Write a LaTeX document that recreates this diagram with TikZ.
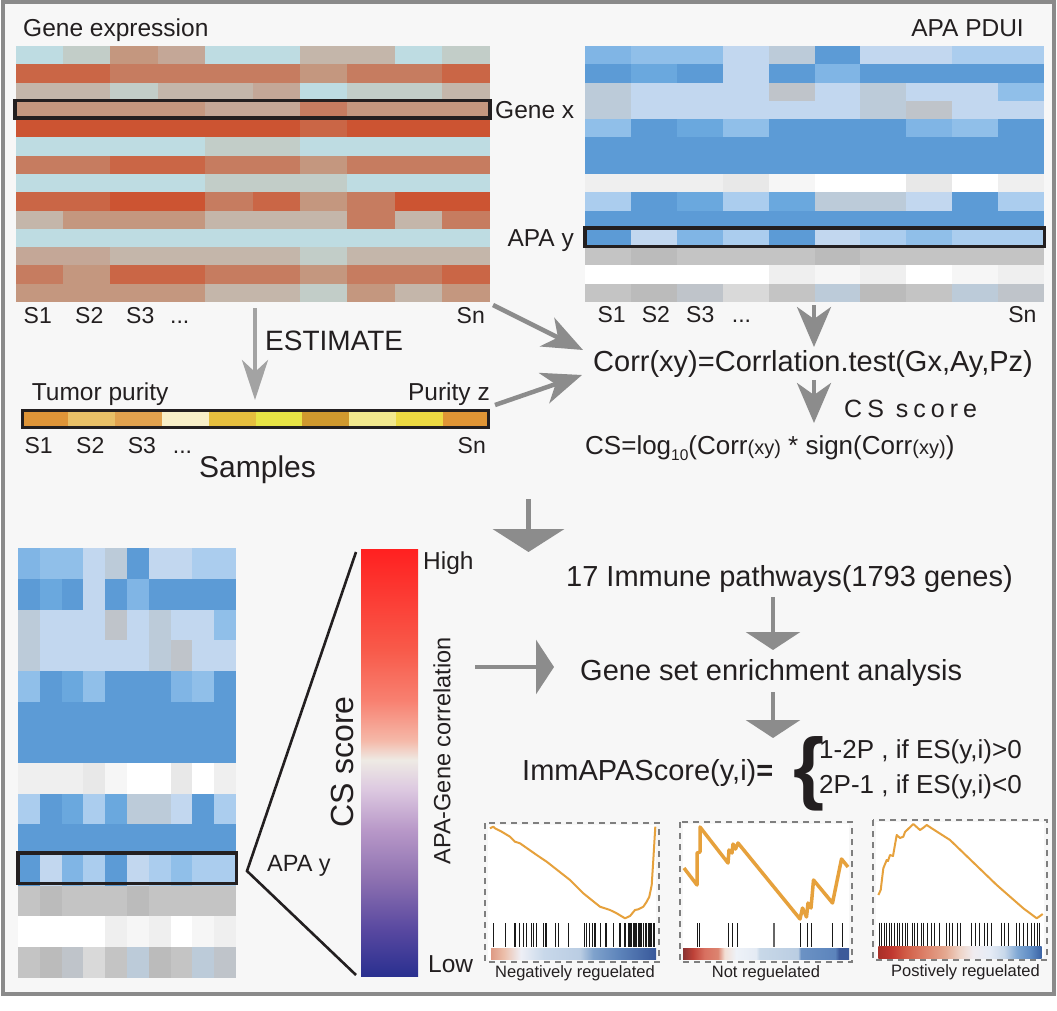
\documentclass[tikz,border=0pt]{standalone}
\usepackage{fontspec}
\setmainfont{Liberation Sans}
\usepackage{xcolor}
\usepackage{tikz}
\usetikzlibrary{arrows.meta,calc}

\newcommand{\pxfont}[1]{\fontsize{#1}{#1}\selectfont}

\definecolor{framegray}{HTML}{8A8A8A}
\definecolor{bgpanel}{HTML}{F7F7F7}
\definecolor{boxblack}{HTML}{231F20}
\definecolor{arrgray}{HTML}{8C8C8C}
\definecolor{gsorange}{HTML}{E6A13C}
\definecolor{panelgray}{HTML}{7F7F7F}
% gene expression palette
\definecolor{geA}{HTML}{BEDCE2}\definecolor{geB}{HTML}{C2CDC8}
\definecolor{geC}{HTML}{C4B6AA}\definecolor{geD}{HTML}{C4977F}
\definecolor{geH}{HTML}{C4A797}\definecolor{geE}{HTML}{C67C60}
\definecolor{geF}{HTML}{CA6646}\definecolor{geG}{HTML}{CC5432}
% PDUI palette
\definecolor{pdA}{HTML}{5C9BD6}\definecolor{pdB}{HTML}{6AA8DE}
\definecolor{pdC}{HTML}{80B5E5}\definecolor{pdD}{HTML}{90BFE9}
\definecolor{pdE}{HTML}{ABCDEE}\definecolor{pdF}{HTML}{C2D7EF}
\definecolor{pdG}{HTML}{BCCBD9}\definecolor{pdH}{HTML}{BFC4CA}
\definecolor{pdK}{HTML}{C4C4C4}\definecolor{pdL}{HTML}{BBBBBB}
\definecolor{pdM}{HTML}{D9D9D9}\definecolor{pdW}{HTML}{EFEFEF}
\definecolor{pdY}{HTML}{E8E8E8}\definecolor{pdX}{HTML}{FFFFFF}
\definecolor{pdV}{HTML}{F6F6F6}
% purity
\definecolor{pu1}{HTML}{DF9538}\definecolor{pu2}{HTML}{E9C067}
\definecolor{pu3}{HTML}{E2A24E}\definecolor{pu4}{HTML}{F8EFC8}
\definecolor{pu5}{HTML}{E6BE3E}\definecolor{pu6}{HTML}{E8E445}
\definecolor{pu7}{HTML}{D0992E}\definecolor{pu8}{HTML}{F3E98E}
\definecolor{pu9}{HTML}{EEDA42}\definecolor{pu10}{HTML}{E09535}
% CS colour bar
\definecolor{cbl0}{HTML}{2A3090}\definecolor{cbl1}{HTML}{5848A0}
\definecolor{cbl2}{HTML}{8C70B0}\definecolor{cbl3}{HTML}{B898C8}
\definecolor{cbl4}{HTML}{DCC8E0}\definecolor{cbl5}{HTML}{EEEAE4}
\definecolor{cbl6}{HTML}{F5B8A8}\definecolor{cbl7}{HTML}{F88070}
\definecolor{cbl8}{HTML}{F85A4A}\definecolor{cbl9}{HTML}{FF2020}
% GSEA rank bars
\definecolor{ga1}{HTML}{DE9A84}\definecolor{ga2}{HTML}{ECC0AC}
\definecolor{ga3}{HTML}{EEEFF6}\definecolor{ga4}{HTML}{C8D8EA}
\definecolor{ga5}{HTML}{BACDE3}\definecolor{ga6}{HTML}{7FA2CC}
\definecolor{ga7}{HTML}{5C83BA}\definecolor{ga8}{HTML}{38589A}
\definecolor{gb1}{HTML}{8A3232}\definecolor{gb2}{HTML}{BE4238}
\definecolor{gb3}{HTML}{D87060}\definecolor{gb4}{HTML}{DC8470}
\definecolor{gb5}{HTML}{F2DED4}\definecolor{gb6}{HTML}{EEF2F8}
\definecolor{gb7}{HTML}{E4EBF4}\definecolor{gb8}{HTML}{C8D8E8}
\definecolor{gb9}{HTML}{BACDE2}\definecolor{gb10}{HTML}{6B92C4}
\definecolor{gb11}{HTML}{5C84BC}\definecolor{gb12}{HTML}{3C5A9A}
\definecolor{gc1}{HTML}{A83028}\definecolor{gc2}{HTML}{C03830}
\definecolor{gc3}{HTML}{D05A44}\definecolor{gc4}{HTML}{DC8068}
\definecolor{gc5}{HTML}{E4A890}\definecolor{gc6}{HTML}{EED4C8}
\definecolor{gc7}{HTML}{F0ECF0}\definecolor{gc8}{HTML}{E6ECF6}
\definecolor{gc9}{HTML}{C8D8EA}\definecolor{gc10}{HTML}{80A8D4}
\definecolor{gc11}{HTML}{5F8CC4}\definecolor{gc12}{HTML}{3A62A4}

\pgfdeclareverticalshading{csbar}{100bp}{color(0bp)=(cbl0); color(25bp)=(cbl0); color(30.4bp)=(cbl1); color(36.2bp)=(cbl2); color(42.1bp)=(cbl3); color(46.8bp)=(cbl4); color(50.3bp)=(cbl5); color(52.6bp)=(cbl6); color(57.3bp)=(cbl7); color(63.2bp)=(cbl8); color(75bp)=(cbl9); color(100bp)=(cbl9)}
\pgfdeclarehorizontalshading{rankneg}{100bp}{color(0bp)=(ga1); color(25bp)=(ga1); color(29bp)=(ga2); color(34bp)=(ga3); color(41bp)=(ga4); color(52bp)=(ga5); color(56bp)=(ga6); color(64bp)=(ga7); color(75bp)=(ga8); color(100bp)=(ga8)}
\pgfdeclarehorizontalshading{ranknot}{100bp}{color(0bp)=(gb1); color(25bp)=(gb1); color(28bp)=(gb2); color(31.5bp)=(gb3); color(35.5bp)=(gb4); color(37.5bp)=(gb5); color(41bp)=(gb6); color(47bp)=(gb7); color(48bp)=(gb8); color(59.6bp)=(gb9); color(60.5bp)=(gb10); color(70.8bp)=(gb11); color(72bp)=(gb12); color(100bp)=(gb12)}
\pgfdeclarehorizontalshading{rankpos}{100bp}{color(0bp)=(gc1); color(25bp)=(gc1); color(29bp)=(gc2); color(33bp)=(gc3); color(39bp)=(gc4); color(45.5bp)=(gc5); color(50bp)=(gc6); color(54bp)=(gc7); color(59bp)=(gc8); color(63.5bp)=(gc9); color(67.5bp)=(gc10); color(71.5bp)=(gc11); color(75bp)=(gc12); color(100bp)=(gc12)}

\newcommand{\generows}{{geA,geB,geD,geH,geA,geA,geC,geC,geA,geB},{geF,geF,geE,geE,geE,geE,geD,geE,geE,geF},{geC,geC,geB,geC,geC,geH,geA,geB,geB,geC},{geD,geD,geD,geD,geH,geH,geE,geD,geD,geD},{geG,geG,geG,geG,geG,geG,geF,geG,geG,geG},{geA,geA,geA,geA,geB,geB,geA,geA,geA,geA},{geE,geE,geF,geF,geE,geE,geD,geE,geE,geE},{geA,geA,geA,geA,geB,geB,geB,geA,geA,geA},{geF,geF,geG,geG,geE,geF,geD,geE,geG,geG},{geC,geD,geD,geD,geC,geC,geC,geE,geC,geE},{geA,geA,geA,geA,geA,geA,geA,geA,geA,geA},{geH,geH,geC,geC,geC,geC,geB,geC,geC,geC},{geE,geD,geF,geF,geE,geE,geD,geE,geE,geF},{geD,geD,geD,geD,geC,geC,geB,geD,geC,geD}}
\newcommand{\pduirows}{{pdC,pdD,pdD,pdF,pdG,pdA,pdF,pdF,pdE,pdE},{pdA,pdB,pdA,pdF,pdA,pdC,pdA,pdA,pdA,pdA},{pdG,pdF,pdF,pdF,pdH,pdF,pdG,pdF,pdF,pdD},{pdG,pdF,pdF,pdF,pdF,pdF,pdG,pdH,pdF,pdF},{pdD,pdA,pdB,pdD,pdA,pdA,pdA,pdC,pdD,pdA},{pdA,pdA,pdA,pdA,pdA,pdA,pdA,pdA,pdA,pdA},{pdA,pdA,pdA,pdA,pdA,pdA,pdA,pdA,pdA,pdA},{pdW,pdW,pdW,pdY,pdV,pdX,pdX,pdY,pdX,pdW},{pdE,pdA,pdB,pdE,pdB,pdG,pdG,pdF,pdA,pdE},{pdA,pdA,pdA,pdA,pdA,pdA,pdA,pdA,pdA,pdA},{pdA,pdF,pdC,pdE,pdA,pdF,pdE,pdD,pdE,pdE},{pdK,pdL,pdK,pdK,pdK,pdL,pdK,pdK,pdK,pdK},{pdX,pdX,pdX,pdX,pdW,pdV,pdW,pdX,pdV,pdW},{pdK,pdL,pdH,pdM,pdK,pdG,pdL,pdK,pdG,pdH}}

% #1,#2 top left, #3,#4 cell size, #5 rows
\newcommand{\drawheat}[5]{%
  \foreach \hrow [count=\ri] in #5 {%
    \foreach \hcol [count=\cj] in \hrow {%
      \fill[fill=\hcol] ({#1+(\cj-1)*#3},{#2+(\ri-1)*#4}) rectangle ++({#3+0.3},{#4+0.3});
    }%
  }%
}

\tikzset{
  lbl/.style={inner sep=0pt, text=boxblack, font=\pxfont{24.5}},
  smp/.style={lbl, font=\pxfont{23}, anchor=base west},
  outlinebox/.style={draw=boxblack, line width=3.6pt},
  flowarr/.style={draw=arrgray, line width=4.5pt, -{Stealth[length=40pt,width=32pt,inset=12pt]}},
  estarr/.style={draw=arrgray!80, line width=4pt, -{Stealth[length=40pt,width=26pt,inset=12pt]}},
  downarr/.style={draw=arrgray, line width=4pt, -{Stealth[length=40pt,width=34pt,inset=12pt]}},
  fatarr/.style={draw=arrgray, line width=5.2pt, -{Triangle[length=23pt,width=71pt]}},
  stemarr/.style={draw=arrgray, line width=3.7pt, -{Triangle[length=18pt,width=54pt]}},
  gspanel/.style={draw=panelgray, line width=1.8pt, dash pattern=on 6pt off 5pt},
  gscurve/.style={draw=gsorange, line width=2pt, line join=round},
  hitline/.style={draw=black!90, line width=1.1pt},
  gslbl/.style={lbl, font=\pxfont{16.5}, anchor=base}
}

\begin{document}
\begin{tikzpicture}[x=1pt,y=-1pt]
\useasboundingbox (0,0) rectangle (1057,1011);
\fill[white] (0,0) rectangle (1057,1011);
\draw[draw=framegray, line width=4pt, fill=bgpanel] (3,2.5) rectangle (1054,993.5);

% Heatmaps
\drawheat{15.7}{46}{47.36}{18.29}{\generows}
\drawheat{585}{46}{45.9}{18.29}{\pduirows}
\drawheat{18}{548.3}{21.8}{30.67}{\pduirows}
\draw[outlinebox] (15.2,100.5) rectangle (489.9,118.3);
\draw[outlinebox] (585,227.8) rectangle (1044.3,246.5);
\draw[outlinebox] (18,853) rectangle (236.3,883.3);

\node[lbl, anchor=base west] (gexp) at (23,37) {Gene expression};
\node[lbl, anchor=base east] (pdui) at (1024,37) {APA PDUI};
\node[lbl, anchor=base west] (genex) at (495,118.5) {Gene x};
\node[lbl, anchor=base east] (apaytop) at (574,246) {APA y};
\foreach \s/\x [count=\k] in {S1/23.5,S2/75,S3/126}
  \node[smp] (gs\k) at (\x,323) {\s};
\node[smp] (gsdots) at (170,323) {...};
\node[smp, anchor=base east] (gsn) at (485,323) {Sn};
\foreach \s/\x [count=\k] in {S1/597.3,S2/641.7,S3/686}
  \node[smp] (ps\k) at (\x,322) {\s};
\node[smp] (psdots) at (731.7,322) {...};
\node[smp, anchor=base east] (psn) at (1036.7,322) {Sn};

% Tumor purity
\foreach \k in {1,2,3,4,5,6,7,8,9,10}
  \fill[fill=pu\k] ({21+(\k-1)*46.9},410) rectangle ++(47.2,18);
\draw[outlinebox, line width=3.4pt] (22.4,410.4) rectangle (488.3,427.6);
\node[lbl, anchor=base west] (tumpur) at (31.7,400.7) {Tumor purity};
\node[lbl, anchor=base east] (purz) at (490,400.7) {Purity z};
\foreach \s/\x [count=\k] in {S1/24.3,S2/76,S3/127.7}
  \node[smp] (us\k) at (\x,453.3) {\s};
\node[smp] (usdots) at (172.7,453.3) {...};
\node[smp, anchor=base east] (usn) at (486,453.3) {Sn};
\node[lbl, font=\pxfont{30}, anchor=base west] (samples) at (199,477.3) {Samples};
\node[lbl, font=\pxfont{28}, anchor=base west] (estim) at (265,350.7) {ESTIMATE};

% Formulas
\node[lbl, font=\pxfont{29}, anchor=base west] (corr) at (593,371.7) {Corr(xy)=Corrlation.test(Gx,Ay,Pz)};
\node[lbl, font=\pxfont{25}, anchor=base west] (csscore) at (844,417.3) {\addfontfeatures{LetterSpace=20}CS score};
\node[lbl, font=\pxfont{26}, anchor=base west] (csform) at (585,454)
  {CS=log\raisebox{-6.5pt}{\pxfont{15.5}10}(Corr{\pxfont{20}(xy)} * sign(Corr{\pxfont{20}(xy)})};
\node[lbl, font=\pxfont{29}, anchor=base west] (immpath) at (566,586.7) {17 Immune pathways(1793 genes)};
\node[lbl, font=\pxfont{29}, anchor=base west] (gsea) at (580,680) {Gene set enrichment analysis};
\node[lbl, font=\pxfont{29}, anchor=base west] (immscore) at (522,780) {ImmAPAScore(y,i){\bfseries =}};
\node[lbl, font=\pxfont{80}\bfseries, anchor=base west] (brace) at (793,794.5) {\{};
\node[lbl, font=\pxfont{26}, anchor=base west] (casepos) at (819,758.3) {1-2P , if ES(y,i)>0};
\node[lbl, font=\pxfont{26}, anchor=base west] (caseneg) at (819,793.3) {2P-1 , if ES(y,i)<0};

% Arrows
\coordinate (estS) at (255,308); \coordinate (estE) at (255,400);
\coordinate (geOut) at (493,305); \coordinate (corrInA) at (583,350);
\coordinate (puOut) at (495,405); \coordinate (corrInB) at (582,375);
\coordinate (pdOut) at (814,305); \coordinate (corrTop) at (814,347);
\coordinate (corrOut) at (814,380); \coordinate (csIn) at (814,423);
\coordinate (mainS) at (528.5,499); \coordinate (mainE) at (528.5,552);
\coordinate (pathS) at (773,597); \coordinate (pathE) at (773,650);
\coordinate (gsS) at (773,692); \coordinate (gsE) at (773,738);
\coordinate (barOut) at (475,667); \coordinate (gsIn) at (554,667);
\draw[estarr] (estS) -- (estE);
\draw[flowarr] (geOut) -- (corrInA);
\draw[flowarr] (puOut) -- (corrInB);
\draw[downarr] (pdOut) -- (corrTop);
\draw[downarr] (corrOut) -- (csIn);
\draw[fatarr] (mainS) -- (mainE);
\draw[stemarr] (pathS) -- (pathE);
\draw[stemarr] (gsS) -- (gsE);
\draw[stemarr] (barOut) -- (gsIn);

% CS score bar
\shade[shading=csbar] (361,549) rectangle (418,976);
\coordinate (cbTop) at (356,552); \coordinate (cbBot) at (356,975);
\coordinate (apaApex) at (247,871);
\draw[draw=boxblack, line width=2.6pt] (cbTop) -- (apaApex) -- (cbBot);
\node[lbl, anchor=base west] (high) at (423,569.3) {High};
\node[lbl, anchor=base west] (low) at (428,972.7) {Low};
\node[lbl, font=\pxfont{23.5}, anchor=base west] (apaybot) at (267,871.7) {APA y};
\node[lbl, font=\pxfont{32}, rotate=90] (csrot) at (342,762) {CS score};
\node[lbl, font=\pxfont{23.5}, rotate=90] (apacorr) at (442,751) {APA-Gene correlation};

% GSEA panels
\fill[white] (488,825) rectangle (656,960);
\fill[white] (683,824) rectangle (849,960);
\fill[white] (876,822) rectangle (1044,958);
\draw[gspanel] (485,823) rectangle (659,962);
\draw[gspanel] (680,822) rectangle (852,962);
\draw[gspanel] (873,820) rectangle (1047,960);
\draw[gscurve] plot coordinates {(490,828.3) (493.3,826.7) (495,828.3) (501.7,831.7) (510,836.7) (515,841.7) (520,843.3) (536.7,855) (546.7,861.7) (570,880) (583.3,893.3) (600,906.7) (610,910) (616.7,913.3) (625,918.3) (630,916) (635,910) (638.3,909.3) (643.3,906.7) (646.7,901.7) (649.3,896.7) (651.7,885) (653.3,860) (654.3,843.3) (655.3,826.7)};
\draw[gscurve, line width=3.5pt] plot coordinates {(684,868) (697,885) (697,853) (700,852) (700,827) (728,863) (729,850) (732,853) (733,844) (735.5,849) (738,843) (800,919) (802.5,908) (806.5,917) (808,903) (811,908) (813.5,880) (832.5,903) (841.5,859) (848,867)};
\draw[gscurve] plot coordinates {(878.3,895) (880.7,890) (883.3,868.3) (886.7,860) (888,861) (890,855) (893,856) (896.7,835) (900,838) (903.3,836.7) (905,832) (913.3,824) (920,830) (923,828) (926.7,825) (931.7,828.3) (950,840) (996.7,885) (1023.3,908.3) (1036.7,918.3) (1040,916) (1042.7,914)};
\foreach \hx in {493.3,505.7,515,519.3,523.3,526.7,531.7,533.3,536.7,543.3,546,555.7,558.3,568.3,584.3,586.7,589.3,592.7,595,600.3,606,613.3,620,625,628.3,630,631.7,633.3,635,636.7,638.3,640,641.7,643.3,646,648.3,650,651.7,653.3,654.3}
  \draw[hitline] (\hx,923) -- (\hx,947);
\foreach \hx in {697.3,699.5,728.3,732.7,737.7,800.7,807.7,811.7,832.7,842.7}
  \draw[hitline] (\hx,923) -- (\hx,947);
\draw[hitline, draw=black!60] (774,923) -- (774,947);
\foreach \hx in {879,881.5,884,886,889,891.5,894,897,899,902,905,907,912,914.5,917,921,923.5,927,931,934,939,946,949,952,957,960,971,975,979,984,987,991,1001,1004,1008,1016,1019,1023,1027,1031,1034,1037,1039.5}
  \draw[hitline, line width=0.9pt] (\hx,922.5) -- (\hx,946.7);
\shade[shading=rankneg] (491,948) rectangle (656,959);
\shade[shading=ranknot] (683,948) rectangle (849,959);
\shade[shading=rankpos] (878.3,946.7) rectangle (1041.7,958.3);
\node[gslbl] (lblneg) at (575,977) {Negatively reguelated};
\node[gslbl] (lblnot) at (766,977) {Not reguelated};
\node[gslbl] (lblpos) at (965.5,976) {Postively reguelated};
\end{tikzpicture}
\end{document}
